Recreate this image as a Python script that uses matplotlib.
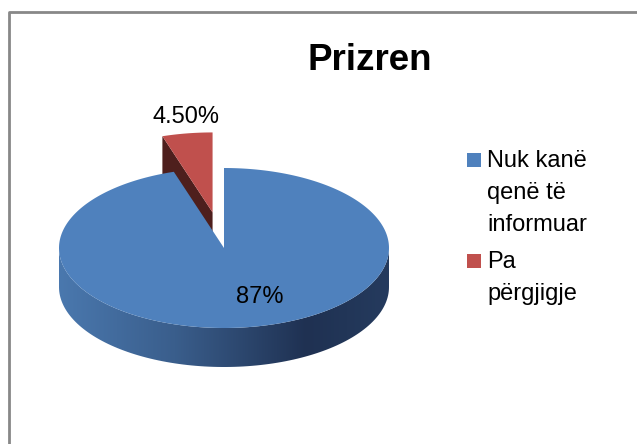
import numpy as np
import matplotlib
matplotlib.use("Agg")
import matplotlib.pyplot as plt
from matplotlib import font_manager
from matplotlib.patches import Polygon, Rectangle
from matplotlib.colors import LinearSegmentedColormap

# data
categories = ["Nuk kanë\nqenë të\ninformuar", "Pa\npërgjigje"]
values = [87, 4.5]
label_texts = ["87%", "4.50%"]
title = "Prizren"

top_colors = ["#4F81BD", "#C0504D"]
side_colors = ["#2C4770", "#4E1F1D"]

names = {f.name for f in font_manager.fontManager.ttflist}
font = "Liberation Sans Narrow" if "Liberation Sans Narrow" in names else "Liberation Sans"
plt.rcParams["font.family"] = [font, "DejaVu Sans"]

fig = plt.figure(figsize=(6.37, 4.44), dpi=100)
ax = fig.add_axes([0, 0, 1, 1])
ax.set_xlim(0, 637)
ax.set_ylim(444, 0)
ax.axis("off")

# chart border (only top and left visible)
ax.plot([9, 9, 637], [444, 12, 12], color="#888888", lw=2, solid_capstyle="butt")

# pie layout
cx, cy, a, b, depth = 224, 248, 165, 80, 39
explode = [0, 0.45]

def pt(t, ox=0, oy=0, dz=0):
    return (cx + ox + a * np.cos(t), cy + oy - b * np.sin(t) + dz)

total = sum(values)
spans = [v / total * 2 * np.pi for v in values]
# blue starts at 12 o'clock and goes clockwise; red fills the rest
start = np.pi / 2
wedges = []
ang = start
for s in spans:
    wedges.append((ang - s, ang))
    ang -= s

# red slice (exploded)
t0, t1 = wedges[1]
t0 += 2 * np.pi
t1 += 2 * np.pi
mid = (t0 + t1) / 2
ox = explode[1] * a * np.cos(mid)
oy = -explode[1] * b * np.sin(mid)
c_top = (cx + ox, cy + oy)
c_bot = (cx + ox, cy + oy + depth)
edge = t1
side = [c_top, pt(edge, ox, oy), pt(edge, ox, oy, depth), c_bot]
ax.add_patch(Polygon(side, closed=True, facecolor=side_colors[1], edgecolor="none", zorder=2))
ts = np.linspace(t0, t1, 30)
top = [c_top] + [pt(t, ox, oy) for t in ts]
ax.add_patch(Polygon(top, closed=True, facecolor=top_colors[1], edgecolor="none", zorder=3))

# blue slice: front side with gradient
ts = np.linspace(np.pi, 2 * np.pi, 120)
front = [pt(t) for t in ts] + [pt(t, dz=depth) for t in ts[::-1]]
front_poly = Polygon(front, closed=True, facecolor="none", edgecolor="none")
ax.add_patch(front_poly)
cmap = LinearSegmentedColormap.from_list(
    "side", [(0, "#4A78AE"), (0.35, "#3A5E8C"), (0.75, "#1F3152"), (1, "#253B5E")])
grad = np.linspace(0, 1, 256).reshape(1, -1)
im = ax.imshow(grad, cmap=cmap, aspect="auto", zorder=4,
               extent=(cx - a, cx + a, cy + b + depth, cy - b), interpolation="bilinear")
im.set_clip_path(front_poly)

bt0, bt1 = wedges[0]
ts = np.linspace(bt0, bt1, 300)
top = [(cx, cy)] + [pt(t) for t in ts]
ax.add_patch(Polygon(top, closed=True, facecolor=top_colors[0], edgecolor="none", zorder=5))

# data labels
ax.text(260, 297, label_texts[0], fontsize=17, ha="center", va="center", zorder=6)
ax.text(186, 117, label_texts[1], fontsize=17, ha="center", va="center", zorder=6)

# title
ax.text(370, 70, title, fontsize=26.5, fontweight="bold", ha="center", va="baseline")

# legend
leg_y = [153, 254]
for i, lab in enumerate(categories):
    ax.add_patch(Rectangle((467, leg_y[i]), 14, 14, facecolor=top_colors[i], edgecolor="none"))
    for j, line in enumerate(lab.split("\n")):
        ax.text(487, leg_y[i] + 14 + j * 32, line, fontsize=17, ha="left", va="baseline")

fig.savefig("out.png", dpi=100)
